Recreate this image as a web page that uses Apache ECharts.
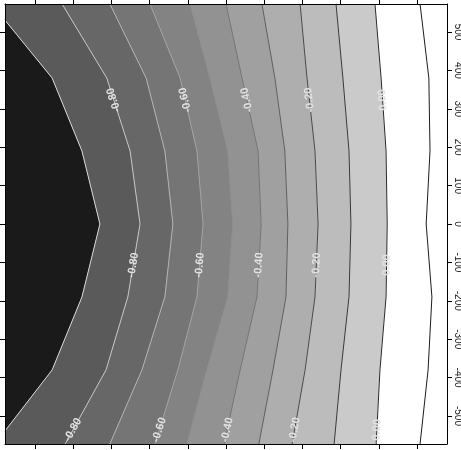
<!DOCTYPE html>
<html>
<head>
<meta charset="utf-8">
<script src="https://cdn.jsdelivr.net/npm/echarts@6/dist/echarts.min.js"></script>
<style>
  html, body { margin: 0; padding: 0; background: #ffffff; }
  #chart { width: 461px; height: 450px; }
</style>
</head>
<body>
<div id="chart"></div>
<script>
// Axis extents (data units)
const xMin = -78.5, xMax = 1078.5;
const yMin = -573, yMax = 573;
const xTicks = [0, 100, 200, 300, 400, 500, 600, 700, 800, 900, 1000];
const yTicks = [-500, -400, -300, -200, -100, 0, 100, 200, 300, 400, 500];

// Rows (y values) at which each contour crosses, top to bottom
const yRows = [573, 380, 190, 0, -190, -380, -573];

// Contour levels
const levels = [-0.9, -0.8, -0.7, -0.6, -0.5, -0.4, -0.3, -0.2, -0.1, 0.0, 0.1];

// x position of each contour level on every row of yRows
const xLevelM090 = [-113, 45, 123, 170, 123, 45, -105];
const xLevelM080 = [71, 188, 249, 275, 243, 186, 79];
const xLevelM070 = [196, 291, 340, 361, 340, 280, 196];
const xLevelM060 = [301, 380, 424, 440, 424, 374, 314];
const xLevelM050 = [406, 458, 505, 518, 505, 450, 398];
const xLevelM040 = [500, 542, 584, 592, 581, 537, 495];
const xLevelM030 = [594, 628, 654, 662, 657, 623, 586];
const xLevelM020 = [694, 712, 733, 741, 733, 707, 673];
const xLevelM010 = [788, 806, 822, 827, 822, 801, 783];
const xLevel000 = [890, 906, 919, 922, 919, 903, 893];
const xLevel010 = [1008, 1031, 1034, 1024, 1039, 1029, 1008];

// Labelled levels and the y values of the label rows
const labelLevels = [-0.8, -0.6, -0.4, -0.2, 0.0];
const labelRowY = [323, -107, -536];

const contourX = [xLevelM090, xLevelM080, xLevelM070, xLevelM060, xLevelM050,
  xLevelM040, xLevelM030, xLevelM020, xLevelM010, xLevel000, xLevel010];

// Fill colour of each band, from below the lowest level to above the highest
const bandColors = ['#1a1a1a', '#5a5a5a', '#676767', '#757575', '#838383', '#929292',
  '#a0a0a0', '#aeaeae', '#bcbcbc', '#cacaca', '#ffffff', '#ffffff'];
// Contour line colours, one per level
const lineColors = ['#d6d6d6', '#c6c6c6', '#b4b4b4', '#a2a2a2', '#8e8e8e', '#747474',
  '#5e5e5e', '#4a4a4a', '#383838', '#282828', '#1c1c1c'];

const FONT = '"Liberation Sans", Arial, Helvetica, sans-serif';
const farLeft = xMin - 300, farRight = xMax + 300;

function boundary(i) {
  if (i < 0) return yRows.map(() => farLeft);
  if (i >= contourX.length) return yRows.map(() => farRight);
  return contourX[i];
}

const chart = echarts.init(document.getElementById('chart'), null, { renderer: 'canvas' });

const axisCommon = {
  type: 'value',
  z: 10,
  splitLine: { show: false },
  axisLine: { show: true, onZero: false, lineStyle: { color: '#000', width: 1 } },
  axisTick: { show: true, inside: false, length: 5, lineStyle: { color: '#000', width: 1 } }
};

const bandSeries = {
  type: 'custom',
  z: 1,
  clip: true,
  silent: true,
  animation: false,
  data: bandColors.map((c, i) => [i]),
  renderItem: function (params, api) {
    const i = params.dataIndex;
    const left = boundary(i - 1);
    const right = boundary(i);
    const pts = [];
    for (let r = 0; r < yRows.length; r++) pts.push(api.coord([left[r], yRows[r]]));
    for (let r = yRows.length - 1; r >= 0; r--) pts.push(api.coord([right[r], yRows[r]]));
    return {
      type: 'polygon',
      shape: { points: pts },
      style: { fill: bandColors[i], stroke: bandColors[i], lineWidth: 0.5 }
    };
  }
};

const lineSeries = contourX.map((xs, k) => ({
  type: 'line',
  z: 2,
  silent: true,
  animation: false,
  showSymbol: false,
  symbol: 'none',
  clip: true,
  lineStyle: { color: lineColors[k], width: 1 },
  data: xs.map((x, r) => [x, yRows[r]])
}));

// Locate a level's contour at a given y and return pixel position and angle
function labelPlacement(api, xs, y) {
  let r = 0;
  while (r < yRows.length - 2 && y < yRows[r + 1]) r++;
  const t = (yRows[r] - y) / (yRows[r] - yRows[r + 1]);
  const x = xs[r] + t * (xs[r + 1] - xs[r]);
  const p = api.coord([x, y]);
  const pa = api.coord([xs[r], yRows[r]]);
  const pb = api.coord([xs[r + 1], yRows[r + 1]]);
  // direction pointing up the screen
  const dx = pa[0] - pb[0], dy = pa[1] - pb[1];
  const ang = Math.atan2(-dy, dx);
  return { p, ang };
}

const labelSeries = {
  type: 'custom',
  z: 3,
  clip: true,
  silent: true,
  animation: false,
  data: [[0]],
  renderItem: function (params, api) {
    const children = [];
    labelRowY.forEach(y => {
      labelLevels.forEach(lv => {
        const k = levels.findIndex(v => Math.abs(v - lv) < 1e-9);
        const pl = labelPlacement(api, contourX[k], y);
        children.push({
          type: 'text',
          x: pl.p[0],
          y: pl.p[1],
          rotation: pl.ang,
          style: {
            text: (Math.abs(lv) < 1e-9 ? 0 : lv).toFixed(2),
            fill: '#e2e2e2',
            font: 'bold 11px ' + FONT,
            align: 'center',
            verticalAlign: 'middle'
          }
        });
      });
    });
    return { type: 'group', children };
  }
};

const option = {
  animation: false,
  backgroundColor: '#ffffff',
  grid: { left: 5, top: 4, right: 14, bottom: 6, containLabel: false, outerBoundsMode: 'none', show: false },
  xAxis: [
    Object.assign({}, axisCommon, {
      position: 'bottom', min: xMin, max: xMax,
      axisTick: Object.assign({}, axisCommon.axisTick, { customValues: xTicks }),
      axisLabel: { show: false, customValues: xTicks }
    }),
    Object.assign({}, axisCommon, {
      position: 'top', min: xMin, max: xMax,
      axisTick: Object.assign({}, axisCommon.axisTick, { customValues: xTicks }),
      axisLabel: { show: false, customValues: xTicks }
    })
  ],
  yAxis: [
    Object.assign({}, axisCommon, {
      position: 'left', min: yMin, max: yMax,
      axisTick: Object.assign({}, axisCommon.axisTick, { customValues: yTicks }),
      axisLabel: { show: false, customValues: yTicks }
    }),
    Object.assign({}, axisCommon, {
      position: 'right', min: yMin, max: yMax,
      axisTick: Object.assign({}, axisCommon.axisTick, { customValues: yTicks }),
      axisLabel: {
        show: true, customValues: yTicks, rotate: -90, margin: 6,
        color: '#222', fontSize: 10, fontFamily: FONT,
        formatter: v => String(v)
      }
    })
  ],
  series: [bandSeries].concat(lineSeries, [labelSeries])
};

chart.setOption(option);
</script>
</body>
</html>
